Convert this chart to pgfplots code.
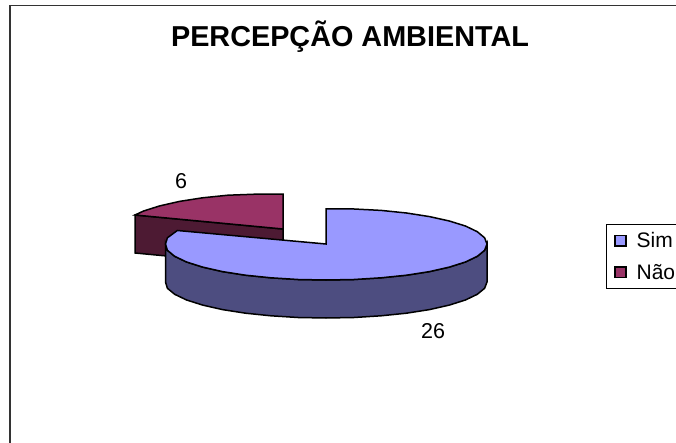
\documentclass[border=0pt]{standalone}
\usepackage{pgfplots}
\pgfplotsset{compat=1.18}
\usepackage{fontspec}
\setmainfont{Liberation Sans}
\definecolor{simtop}{HTML}{9999FF}
\definecolor{simside}{HTML}{4D4D80}
\definecolor{naotop}{HTML}{993366}
\definecolor{naoside}{HTML}{4D1A33}
\definecolor{framecol}{HTML}{333333}
\begin{document}
\begin{tikzpicture}
\clip (0,0) rectangle (676pt,443pt);
\begin{axis}[
  at={(0,0)}, anchor=south west,
  scale only axis, width=676pt, height=443pt,
  xmin=0, xmax=676, ymin=0, ymax=443, y dir=reverse,
  axis lines=none,
  clip=false,
  reverse legend,
  legend cell align=left,
  legend style={
    at={(axis cs:605.7,224)}, anchor=north west,
    draw=black, line width=0.9pt, fill=white,
    font=\fontsize{21}{24}\selectfont,
    inner xsep=8pt, inner ysep=8pt,
    row sep=15pt, column sep=10pt,
    nodes={inner sep=0pt, anchor=west},
  },
  legend image code/.code={
    \draw[#1, line width=1.5pt] (0pt,-5pt) rectangle (11pt,5.5pt);
  },
]
% frame of the chart area
\addplot[framecol, line width=1.5pt, forget plot] coordinates {(10,443) (10,5.5) (676,5.5)};

% Nao wall and top (6)
\addplot[fill=naoside, draw=black, line width=1.5pt, forget plot] coordinates {
  (135,215) (283,229) (283,267) (135,253)} -- cycle;
\addplot[fill=naotop, draw=black, line width=1.5pt] coordinates {
  (283,229) (135,215) (143.6,211) (159.7,205.9) (179.5,201.4) (202.5,197.8)
  (227.9,195.2) (255,194.2) (283,194.2)} -- cycle;

% Sim side and top (26)
\addplot[fill=simside, draw=black, line width=1.5pt, forget plot] coordinates {
  (487,244) (484.6,250.3) (477.3,256.3) (465.4,262) (449.3,267.1) (429.5,271.6)
  (406.5,275.2) (381.1,277.8) (354,279.5) (326,280) (298,279.5) (270.9,277.8)
  (245.5,275.2) (222.5,271.6) (202.7,267.1) (186.6,262) (174.7,256.3) (167.4,250.3)
  (165.5,244)
  (165.5,282) (167.4,288.3) (174.7,294.3) (186.6,300) (202.7,305.1) (222.5,309.6)
  (245.5,313.2) (270.9,315.8) (298,317.5) (326,318) (354,317.5) (381.1,315.8)
  (406.5,313.2) (429.5,309.6) (449.3,305.1) (465.4,300) (477.3,294.3) (484.6,288.3)
  (487,282)} -- cycle;
\addplot[fill=simtop, draw=black, line width=1.5pt] coordinates {
  (326,244) (326,209) (354,209) (381.1,210.4) (406.5,213) (429.5,216.6) (449.3,221)
  (465.4,226) (477.3,231.7) (484.6,237.8) (487,244) (484.6,250.3) (477.3,256.3)
  (465.4,262) (449.3,267.1) (429.5,271.6) (406.5,275.2) (381.1,277.8) (354,279.5)
  (326,280) (298,279.5) (270.9,277.8) (245.5,275.2) (222.5,271.6) (202.7,267.1)
  (186.6,262) (174.7,256.3) (167.4,250.3) (165.5,244) (167.4,237.8) (177.3,230.5)} -- cycle;

\legend{Não,Sim}

\node[font=\fontsize{28.8}{32}\selectfont\bfseries, anchor=center] at (axis cs:350,36.5) {PERCEPÇÃO AMBIENTAL};
\node[font=\fontsize{21.5}{24}\selectfont] at (axis cs:181,181) {6};
\node[font=\fontsize{21.5}{24}\selectfont] at (axis cs:433,331) {26};
\end{axis}
\end{tikzpicture}
\end{document}
